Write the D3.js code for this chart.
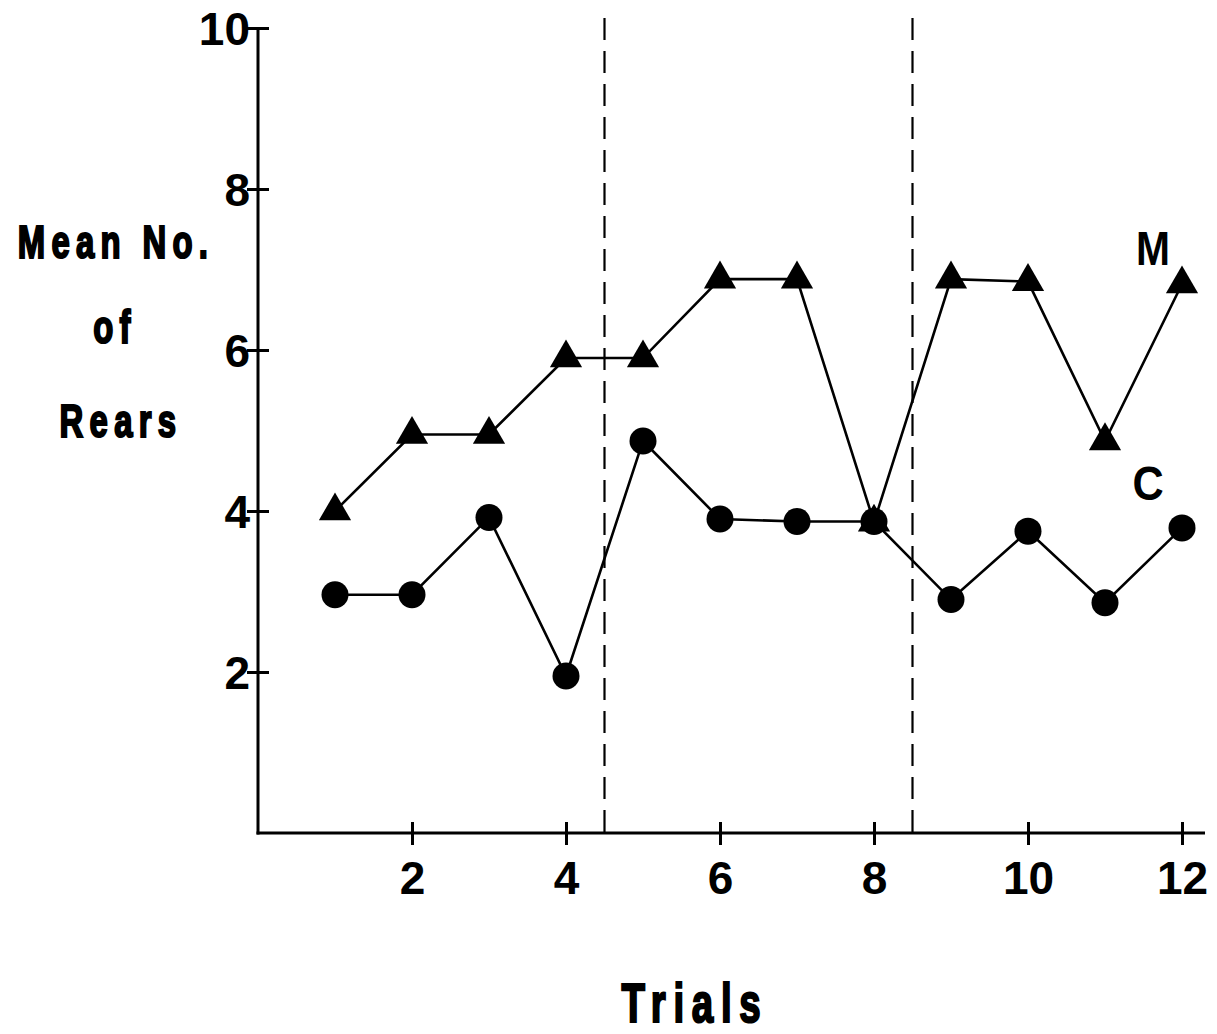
<!DOCTYPE html>
<html>
<head>
<meta charset="utf-8">
<script src="https://cdn.jsdelivr.net/npm/d3@7"></script>
<style>
body{margin:0;background:#fff;}
svg{display:block;}
</style>
</head>
<body>
<svg id="chart" width="1217" height="1034"></svg>
<script>
const trials = [1,2,3,4,5,6,7,8,9,10,11,12];
const seriesM = [4.0,4.95,4.95,5.9,5.9,6.88,6.88,3.86,6.88,6.85,4.87,6.82];
const seriesC = [2.96,2.96,3.92,1.95,4.87,3.9,3.87,3.87,2.9,3.75,2.86,3.79];
const xTicks = [2,4,6,8,10,12];
const yTicks = [2,4,6,8,10];
const phaseBreaks = [4.5,8.5];
const yTitle = ["Mean No.","of","Rears"];

const svg = d3.select("#chart");
const x = d3.scaleLinear().domain([0,12.3]).range([258,258+12.3*77]);
const y = d3.scaleLinear().domain([0,10]).range([833,28]);

const sans = "'Liberation Sans', Arial, Helvetica, sans-serif";

// dashed phase lines
svg.selectAll("line.phase").data(phaseBreaks).enter().append("line")
  .attr("class","phase")
  .attr("x1",d=>x(d)).attr("x2",d=>x(d))
  .attr("y1",18).attr("y2",y(0))
  .attr("stroke","#000").attr("stroke-width",2.2)
  .attr("stroke-dasharray","22,11");

// axes (d3 generators, restyled as crossing ticks)
const yAxis = d3.axisLeft(y).tickValues(yTicks).tickSize(0).tickFormat(d3.format("d"));
const gy = svg.append("g").attr("transform",`translate(${x(0)},0)`).call(yAxis);
gy.select(".domain").remove();
gy.selectAll(".tick line").attr("x1",-11).attr("x2",11).attr("stroke","#000").attr("stroke-width",3);
gy.selectAll(".tick text").attr("x",-8).attr("dy",null).attr("y",16)
  .attr("text-anchor","end").attr("fill","#000")
  .attr("font-family",sans).attr("font-weight","bold").attr("font-size",46);

const xAxis = d3.axisBottom(x).tickValues(xTicks).tickSize(0).tickFormat(d3.format("d"));
const gx = svg.append("g").attr("transform",`translate(0,${y(0)})`).call(xAxis);
gx.select(".domain").remove();
gx.selectAll(".tick line").attr("y1",-11).attr("y2",12).attr("stroke","#000").attr("stroke-width",3);
gx.selectAll(".tick text").attr("dy",null).attr("y",61)
  .attr("text-anchor","middle").attr("fill","#000")
  .attr("font-family",sans).attr("font-weight","bold").attr("font-size",46);

// axis lines
svg.append("line").attr("x1",x(0)).attr("x2",x(0)).attr("y1",y(10)).attr("y2",y(0)+1.5)
  .attr("stroke","#000").attr("stroke-width",3);
svg.append("line").attr("x1",x(0)-1.5).attr("x2",1205).attr("y1",y(0)).attr("y2",y(0))
  .attr("stroke","#000").attr("stroke-width",3);

// lines
const line = d3.line().x((d,i)=>x(trials[i])).y(d=>y(d));
svg.append("path").datum(seriesM).attr("d",line)
  .attr("fill","none").attr("stroke","#000").attr("stroke-width",2.6);
svg.append("path").datum(seriesC).attr("d",line)
  .attr("fill","none").attr("stroke","#000").attr("stroke-width",2.6);

// markers
const tri = d3.symbol().type(d3.symbolTriangle).size(450);
svg.selectAll("path.m").data(seriesM).enter().append("path")
  .attr("d",tri)
  .attr("transform",(d,i)=>`translate(${x(trials[i])},${y(d)})`)
  .attr("fill","#000");
svg.selectAll("circle.c").data(seriesC).enter().append("circle")
  .attr("cx",(d,i)=>x(trials[i])).attr("cy",d=>y(d)).attr("r",13.5)
  .attr("fill","#000");

// series labels
svg.append("text").attr("transform","translate(1153,265) scale(0.85,1)").attr("text-anchor","middle")
  .attr("font-family",sans).attr("font-weight","bold").attr("font-size",48).text("M");
svg.append("text").attr("transform","translate(1148,500) scale(0.9,1)").attr("text-anchor","middle")
  .attr("font-family",sans).attr("font-weight","bold").attr("font-size",48).text("C");

// axis titles (condensed heavy type, wide spacing)
const yTitleX = [116,115,121];
const yTitleY = [258,343,437];
svg.selectAll("text.ytitle").data(yTitle).enter().append("text")
  .attr("transform",(d,i)=>`translate(${yTitleX[i]},${yTitleY[i]}) scale(0.7,1)`)
  .attr("text-anchor","middle")
  .attr("font-family",sans).attr("font-weight","bold").attr("font-size",47)
  .attr("letter-spacing",9)
  .attr("stroke","#000").attr("stroke-width",2.2)
  .text(d=>d);
svg.append("text").attr("transform","translate(695,1022) scale(0.7,1)").attr("text-anchor","middle")
  .attr("font-family",sans).attr("font-weight","bold").attr("font-size",55)
  .attr("letter-spacing",11)
  .attr("stroke","#000").attr("stroke-width",2.2)
  .text("Trials");
</script>
</body>
</html>
